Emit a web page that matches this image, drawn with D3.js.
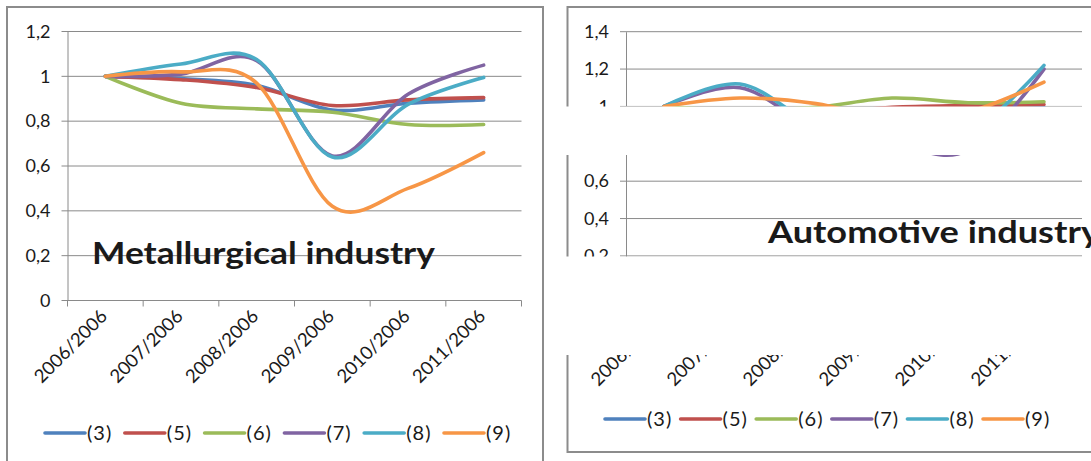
<!DOCTYPE html>
<html>
<head>
<meta charset="utf-8">
<script src="https://cdn.jsdelivr.net/npm/d3@7"></script>
<style>
  html, body { margin: 0; padding: 0; background: #fff; }
  svg { display: block; }
  text { font-family: Lato, "Open Sans", sans-serif; fill: #1a1a1a; }
</style>
</head>
<body>
<svg id="chart" width="1091" height="461"></svg>
<script>
// Year-over-base ratios, categories shared by both panels
const categories = ["2006/2006", "2007/2006", "2008/2006", "2009/2006", "2010/2006", "2011/2006"];
const seriesNames = ["(3)", "(5)", "(6)", "(7)", "(8)", "(9)"];

// Metallurgical industry
const met3 = [1, 0.99, 0.96, 0.85, 0.88, 0.895];
const met5 = [1, 0.985, 0.95, 0.87, 0.895, 0.905];
const met6 = [1, 0.88, 0.855, 0.84, 0.785, 0.785];
const met7 = [1, 1.01, 1.07, 0.645, 0.92, 1.05];
const met8 = [1, 1.055, 1.075, 0.64, 0.875, 0.995];
const met9 = [1, 1.02, 0.97, 0.42, 0.50, 0.66];

// Automotive industry
const auto3 = [1, 0.97, 0.95, 0.90, 0.96, 0.995];
const auto5 = [1, 0.97, 0.96, 0.995, 1.005, 1.01];
const auto6 = [1, 0.98, 0.995, 1.045, 1.02, 1.025];
const auto7 = [1, 1.10, 0.88, 0.80, 0.765, 1.20];
const auto8 = [1, 1.12, 0.90, 0.82, 0.85, 1.22];
const auto9 = [1, 1.045, 1.015, 0.93, 0.97, 1.13];

const metTicks = [0, 0.2, 0.4, 0.6, 0.8, 1, 1.2];
const autoTicks = [0, 0.2, 0.4, 0.6, 0.8, 1, 1.2, 1.4];

const colors = ["#4F81BD", "#C0504D", "#9BBB59", "#8064A2", "#4BACC6", "#F79646"];
const gridColor = "#8a8a8a";
const frameColor = "#8c8c8c";

const svg = d3.select("#chart");
svg.append("rect").attr("width", 1091).attr("height", 461).attr("fill", "#fff");

const fmt = v => String(+v.toFixed(1)).replace(".", ",");

function drawPanel(cfg) {
  const g = svg.append("g");

  // outer frame
  g.append("path")
    .attr("d", cfg.frame)
    .attr("fill", "none")
    .attr("stroke", frameColor)
    .attr("stroke-width", 2);

  const x = d3.scaleBand().domain(categories).range([cfg.left, cfg.right]);
  const y = d3.scaleLinear().domain([0, cfg.max]).range([cfg.bottom, cfg.top]);

  // horizontal gridlines with small outward ticks
  g.selectAll("line.grid").data(cfg.ticks).join("line")
    .attr("x1", cfg.left - 6).attr("x2", cfg.right)
    .attr("y1", d => y(d)).attr("y2", d => y(d))
    .attr("stroke", gridColor).attr("stroke-width", 1);

  // value axis
  const yAxis = d3.axisLeft(y).tickValues(cfg.ticks).tickFormat(fmt).tickSize(0).tickPadding(17);
  const ya = g.append("g").attr("transform", `translate(${cfg.left},0)`).call(yAxis);
  ya.select(".domain").attr("stroke", gridColor);
  ya.selectAll("text").attr("font-size", 18).attr("font-family", "Lato, sans-serif").attr("fill", "#1a1a1a");

  // category axis ticks at category boundaries
  const bounds = d3.range(categories.length + 1).map(i => cfg.left + i * x.bandwidth());
  g.selectAll("line.xt").data(bounds).join("line")
    .attr("x1", d => d).attr("x2", d => d)
    .attr("y1", cfg.bottom).attr("y2", cfg.bottom + 6)
    .attr("stroke", gridColor);

  g.selectAll("text.xl").data(categories).join("text")
    .attr("text-anchor", "end")
    .attr("font-size", 18.5)
    .attr("transform", d => `translate(${x(d) + x.bandwidth() / 2 + cfg.lblDx},${cfg.bottom + cfg.lblDy}) rotate(-45)`)
    .text(d => d);

  // series
  const line = d3.line()
    .x((d, i) => x(categories[i]) + x.bandwidth() / 2)
    .y(d => y(d))
    .curve(d3.curveCatmullRom.alpha(0));
  cfg.series.forEach((vals, i) => {
    g.append("path")
      .attr("d", line(vals))
      .attr("fill", "none")
      .attr("stroke", colors[i])
      .attr("stroke-width", 3.6)
      .attr("stroke-linecap", "round")
      .attr("stroke-linejoin", "round");
  });

  // chart title
  g.append("text")
    .attr("x", cfg.titleX).attr("y", cfg.titleY)
    .attr("font-size", 31).attr("font-weight", "bold")
    .attr("fill", "#000")
    .attr("textLength", cfg.titleLen).attr("lengthAdjust", "spacingAndGlyphs")
    .text(cfg.title);

  // legend
  const lg = g.selectAll("g.lg").data(seriesNames).join("g")
    .attr("transform", (d, i) => `translate(${cfg.legX + i * cfg.legStep},${cfg.legY})`);
  lg.append("line").attr("x1", 0).attr("x2", 40).attr("y1", 0).attr("y2", 0)
    .attr("stroke", (d, i) => colors[i]).attr("stroke-width", 3.6).attr("stroke-linecap", "round");
  lg.append("text").attr("x", 42).attr("y", 7).attr("font-size", 20).attr("letter-spacing", 1).text(d => d);
}

drawPanel({
  frame: "M7,470 L7,7 L543,7 L543,470",
  left: 67.5, right: 521.5, top: 31.5, bottom: 300.5, max: 1.2, ticks: metTicks,
  series: [met3, met5, met6, met7, met8, met9],
  lblDx: 3, lblDy: 17,
  title: "Metallurgical industry", titleX: 92, titleY: 264, titleLen: 343,
  legX: 45, legY: 433, legStep: 79.8
});

drawPanel({
  frame: "M1100,7 L567.5,7 L567.5,452 L1100,452",
  left: 626, right: 1082, top: 31.7, bottom: 293.3, max: 1.4, ticks: autoTicks,
  series: [auto3, auto5, auto6, auto7, auto8, auto9],
  lblDx: 1, lblDy: 27,
  title: "Automotive industry", titleX: 768, titleY: 243, titleLen: 332,
  legX: 605, legY: 419, legStep: 75.6
});

// blanked strips across the automotive panel
svg.append("rect").attr("x", 550).attr("y", 106.5).attr("width", 541).attr("height", 48.5).attr("fill", "#fff");
svg.append("rect").attr("x", 550).attr("y", 256.5).attr("width", 541).attr("height", 98.5).attr("fill", "#fff");
</script>
</body>
</html>
